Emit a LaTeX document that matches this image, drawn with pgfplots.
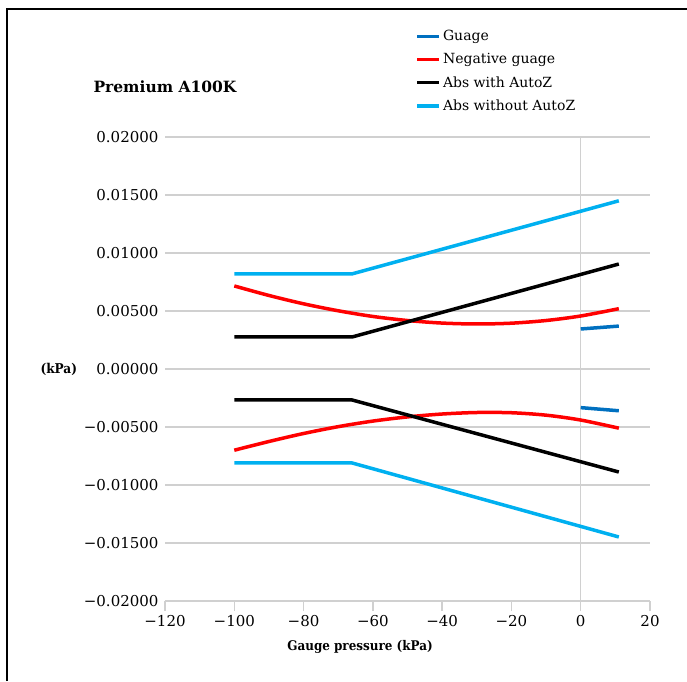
\documentclass[border=0pt]{standalone}
\usepackage{pgfplots}
\pgfplotsset{compat=1.18}
\usepackage{fontspec}
\setmainfont{DejaVu Serif}
\newfontfamily\condfont{DejaVu Serif Condensed}
\definecolor{cGuage}{HTML}{0070C0}
\definecolor{cNeg}{HTML}{FF0000}
\definecolor{cAbs}{HTML}{000000}
\definecolor{cNo}{HTML}{00B0F0}
\definecolor{cGrid}{HTML}{D0D0D0}
\begin{document}
\begin{tikzpicture}
\path[use as bounding box] (0pt,0pt) rectangle (687pt,681pt);
\draw[black, line width=1.3pt] (7pt,0pt) -- (7pt,672pt) -- (687pt,672pt);
\node[anchor=west, font=\fontsize{15.5}{18}\selectfont\bfseries] at (90pt,594pt) {Premium A100K};
\node[anchor=west, font=\condfont\fontsize{13.5}{15}\selectfont\bfseries] at (37pt,312pt) {(kPa)};
\node[anchor=center, font=\condfont\fontsize{13.3}{15}\selectfont\bfseries] at (360pt,34pt) {Gauge pressure (kPa)};
\begin{axis}[
  at={(165pt,80pt)}, anchor=south west,
  scale only axis, width=485pt, height=464pt,
  xmin=-120, xmax=20, ymin=-0.02, ymax=0.02,
  scaled y ticks=false, scaled x ticks=false,
  axis x line*=bottom, axis y line*=left,
  axis line style={-},
  x axis line style={cGrid, line width=1.3pt},
  y axis line style={draw=none},
  xtick={-120,-100,-80,-60,-40,-20,0,20},
  xticklabels={−120,−100,−80,−60,−40,−20,0,20},
  ytick={-0.02,-0.015,-0.01,-0.005,0,0.005,0.01,0.015,0.02},
  yticklabels={−0.02000,−0.01500,−0.01000,−0.00500,0.00000,0.00500,0.01000,0.01500,0.02000},
  xtick align=outside,
  major tick length=10pt,
  xtick style={cGrid, line width=1.3pt},
  ytick style={draw=none},
  ymajorgrids, grid style={cGrid, line width=1.3pt},
  tick label style={font=\fontsize{15}{17}\selectfont},
  yticklabel style={xshift=-3pt},
  xticklabel style={yshift=-1pt},
  legend style={at={(0.51,1.239)}, anchor=north west, draw=none, fill=none,
    font=\fontsize{14}{16}\selectfont, row sep=7.2pt, legend cell align=left},
  legend image code/.code={\draw[#1, line width=3.5pt] (0pt,0pt) -- (22pt,0pt);},
  clip=false,
]
\draw[cGrid, line width=1.3pt] (axis cs:0,-0.02) -- (axis cs:0,0.02);
\addplot[cGuage, line width=3.5pt] coordinates {(0,0.00345) (11,0.0037)};
\addlegendentry{Guage}
\addplot[cNeg, line width=3.5pt, smooth] coordinates {(-100,0.00716) (-90,0.00634) (-80,0.00562) (-70,0.00502) (-60,0.00453) (-50,0.00418) (-40,0.00396) (-30,0.00388) (-20,0.00395) (-10,0.00418) (0,0.00457) (11,0.0052)};
\addlegendentry{Negative guage}
\addplot[cAbs, line width=3.5pt] coordinates {(-100,0.00276) (-66,0.00276) (11,0.00905)};
\addlegendentry{Abs with AutoZ}
\addplot[cNo, line width=3.5pt] coordinates {(-100,0.0082) (-66,0.0082) (11,0.0145)};
\addlegendentry{Abs without AutoZ}
\addplot[cGuage, line width=3.5pt, forget plot] coordinates {(0,-0.00333) (11,-0.0036)};
\addplot[cNeg, line width=3.5pt, smooth, forget plot] coordinates {(-100,-0.0070) (-90,-0.00625) (-80,-0.00556) (-70,-0.00497) (-60,-0.00449) (-50,-0.00413) (-40,-0.00388) (-30,-0.00375) (-20,-0.00377) (-10,-0.00398) (0,-0.0044) (11,-0.0051)};
\addplot[cAbs, line width=3.5pt, forget plot] coordinates {(-100,-0.00267) (-66,-0.00267) (11,-0.00888)};
\addplot[cNo, line width=3.5pt, forget plot] coordinates {(-100,-0.0081) (-66,-0.0081) (11,-0.01448)};
\end{axis}
\end{tikzpicture}
\end{document}
